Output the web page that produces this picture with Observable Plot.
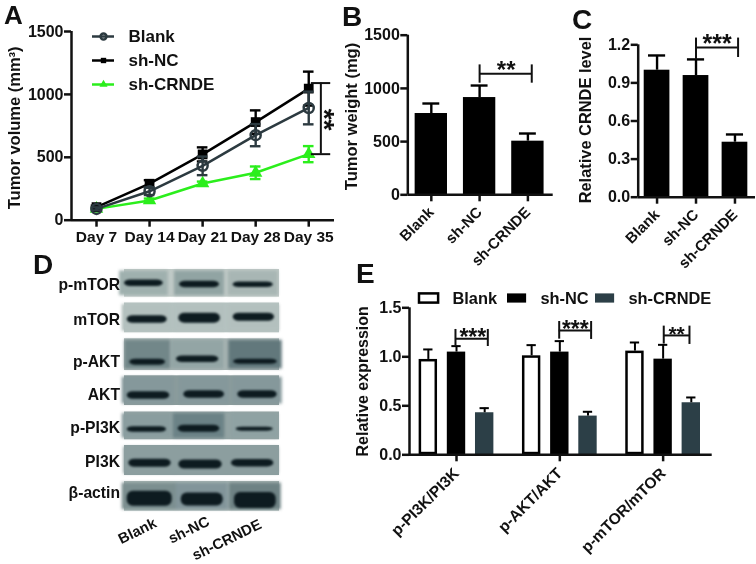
<!DOCTYPE html>
<html><head><meta charset="utf-8">
<script src="https://cdn.jsdelivr.net/npm/d3@7"></script>
<script src="https://cdn.jsdelivr.net/npm/@observablehq/plot@0.6"></script>
<style>
html,body{margin:0;padding:0;background:#fff}
#fig{position:relative;width:756px;height:564px;overflow:hidden;font-family:"Liberation Sans",Arial,sans-serif;font-weight:bold;color:#111;filter:blur(0.3px)}
#fig .letter{position:absolute;font-size:28px;line-height:24px}
</style></head><body><div id="fig"></div>
<script>
const groups = ["Blank", "sh-NC", "sh-CRNDE"];
const days = [7, 14, 21, 28, 35];
const volumeBlank = [90, 230, 432, 676, 892];
const volumeBlankErr = [12, 30, 74, 88, 130];
const volumeNC = [104, 290, 523, 780, 1046];
const volumeNCErr = [12, 28, 56, 93, 135];
const volumeCRNDE = [90, 157, 292, 377, 525];
const volumeCRNDEErr = [8, 15, 15, 50, 64];
const weight = [764, 914, 504];
const weightErr = [94, 113, 72];
const crnde = [1.0, 0.958, 0.433];
const crndeErr = [0.116, 0.127, 0.061];
const pathways = ["p-PI3K/PI3K", "p-AKT/AKT", "p-mTOR/mTOR"];
const exprBlank = [0.973, 1.01, 1.058];
const exprBlankErr = [0.102, 0.109, 0.088];
const exprNC = [1.048, 1.048, 0.976];
const exprNCErr = [0.061, 0.112, 0.146];
const exprCRNDE = [0.429, 0.395, 0.531];
const exprCRNDEErr = [0.047, 0.044, 0.054];
const blotRows = ["p-mTOR", "mTOR", "p-AKT", "AKT", "p-PI3K", "PI3K", "β-actin"];
const blotLabelAt = [15.3, 50.3, 92.7, 125, 158.7, 192.7, 223.3];
const blotTop = [0, 33.5, 69.3, 106.3, 142.5, 176, 212];
const blotBottom = [27.7, 63.3, 101, 136, 170.3, 206, 241.7];
const blotTone = ["#c0cac7", "#b6c3c1", "#a6b3b2", "#8b9c9c", "#93a4a4", "#8c9e9f", "#a6b4b3"];
const laneTone = [
  ["#9fb0ae", "#91a4a3", "#a8b6b4"], ["#b3c0be", "#b3c0be", "#b3c0be"],
  ["#728789", "#93a5a5", "#62787c"], ["#85989b", "#85989b", "#85989b"],
  ["#8a9d9f", "#6b8286", "#8fa2a3"], ["#8c9e9f", "#8c9e9f", "#8c9e9f"],
  ["#7c8f90", "#82959a", "#6e8284"]];
const bandStart = [[0, 55, 108.7], [2.7, 54.3, 108.7], [5.3, 52, 109.3], [2.7, 59.3, 113.3], [2.7, 53.7, 111.7], [4.3, 54.3, 107], [2.7, 56.7, 110]];
const bandEnd = [[38.7, 95, 148.7], [42.7, 96, 150], [41, 94.3, 152.7], [45.3, 100, 152.7], [42, 95.3, 148.7], [46.7, 97.7, 149.3], [47.7, 98.7, 151.7]];
const bandCentre = [[13.7, 15, 15.3], [50, 48.7, 47.7], [92.7, 89.7, 92.3], [126, 125, 125], [160, 159.3, 159.7], [193.7, 195, 193.7], [229.3, 230, 231]];
const bandThickness = [[6.5, 6.5, 5.5], [7.5, 10, 8], [6, 6.5, 5], [7.5, 7.5, 7.5], [5.5, 7, 4], [8, 9, 7.5], [15, 13, 16]];
const laneLabelAt = [31, 84, 136];
const laneLabelY = [252.7, 251, 254];
const bracketsE = [[-0.01, 0.303, 1.184, 1.279, 1.11, 1.105, "***", 0.158, 1.24], [0.994, 1.303, 1.269, 1.36, 1.18, 1.177, "***", 1.15, 1.32], [2.006, 2.255, 1.218, 1.313, 1.13, 1.126, "**", 2.13, 1.27]];

const ink = "#000", blankInk = "#2c3a40", green = "#2bee1c", slate = "#2c3f47";
const fig = document.getElementById("fig");
const fontFamily = '"Liberation Sans",Arial,sans-serif';
function mount(opts, left, top) {
  const p = Plot.plot({...opts, style: {position: "absolute", left: left + "px", top: top + "px", background: "transparent", overflow: "visible", fontFamily, fontWeight: "bold", color: "#111"}});
  fig.appendChild(p);
}
function frame(xd, yd, o) {
  const marks = [
    Plot.ruleY([yd[0]], {x1: xd[0], x2: xd[1], strokeWidth: 2.5, stroke: "#111"}),
    Plot.ruleX([xd[0]], {y1: yd[0], y2: yd[1], strokeWidth: 2.5, stroke: "#111"}),
    Plot.axisY({ticks: o.yTicks, tickFormat: o.yFormat, tickSize: 7, tickPadding: 1, strokeWidth: 2.5, fontSize: 16, label: null, stroke: "#111"}),
    Plot.axisX({ticks: o.xTicks, tickFormat: o.xFormat, tickSize: 7, tickPadding: o.xPad ?? 3, strokeWidth: 2.5, fontSize: o.xSize ?? 15, label: null, stroke: "#111", tickRotate: o.rot ?? 0})
  ];
  return marks;
}
function yTitle(text, dx, dy, size) {
  return Plot.text([text], {text: d => d, frameAnchor: "left", textAnchor: "middle", rotate: -90, dx, dy, fontSize: size, fill: "#111"});
}
function bracket(xa, xb, yBar, yTop, yLeft, yRight) {
  const w = 2, stroke = "#111";
  return [
    Plot.ruleY([yBar], {x1: xa, x2: xb, strokeWidth: w, stroke}),
    Plot.ruleX([xa], {y1: yTop, y2: yLeft, strokeWidth: w, stroke}),
    Plot.ruleX([xb], {y1: yTop, y2: yRight, strokeWidth: w, stroke})
  ];
}
function stars(s, x, y, size, rotate = 0) {
  return Plot.text([s], {text: d => d, x: () => x, y: () => y, fontSize: size, fill: "#111", rotate, lineAnchor: "middle", dy: rotate ? 0 : size * 0.18, dx: rotate ? -size * 0.18 : 0});
}
function errorBars(table, half, stroke, both, w = 2.4) {
  return [
    Plot.ruleX(table, {x: "x", y1: d => both ? d.v - d.e : d.v, y2: d => d.v + d.e, strokeWidth: w, stroke}),
    Plot.ruleY(table, {y: d => d.v + d.e, x1: d => d.x - half, x2: d => d.x + half, strokeWidth: w, stroke}),
    ...(both ? [Plot.ruleY(table, {y: d => d.v - d.e, x1: d => d.x - half, x2: d => d.x + half, strokeWidth: w, stroke})] : [])
  ];
}

/* Panel A */
const series = (vals, errs, xs) => vals.map((v, i) => ({x: xs[i], v, e: errs[i]}));
const volB = series(volumeBlank, volumeBlankErr, days), volN = series(volumeNC, volumeNCErr, days), volC = series(volumeCRNDE, volumeCRNDEErr, days);
const xdA = [3.7, 38.4], ydA = [0, 1500];
mount({width: 340, height: 255, marginLeft: 71, marginTop: 31, marginBottom: 35.3, marginRight: 6,
  x: {domain: xdA}, y: {domain: ydA},
  marks: [
    ...frame(xdA, ydA, {yTicks: [0, 500, 1000, 1500], yFormat: "d", xTicks: days, xFormat: d => "Day " + d, xSize: 15.5, xPad: 4}),
    yTitle("Tumor volume (mm³)", -57, 2, 16.5),
    Plot.line(volC, {x: "x", y: "v", stroke: green, strokeWidth: 2.5}),
    ...errorBars(volC, 0.7, green, true),
    Plot.dot(volC, {x: "x", y: "v", symbol: "triangle", r: 5, fill: green}),
    Plot.line(volN, {x: "x", y: "v", stroke: ink, strokeWidth: 2.5}),
    ...errorBars(volN, 0.7, ink, true),
    Plot.dot(volN, {x: "x", y: "v", symbol: "square", r: 5.5, fill: ink}),
    Plot.line(volB, {x: "x", y: "v", stroke: blankInk, strokeWidth: 2.5}),
    ...errorBars(volB, 0.7, blankInk, true),
    Plot.dot(volB, {x: "x", y: "v", symbol: "circle", r: 5, fill: "none", stroke: blankInk, strokeWidth: 2.5}),
    Plot.ruleX([36.6], {y1: 1090, y2: 525, strokeWidth: 2, stroke: "#111"}),
    Plot.ruleY([1090, 525], {x1: 35.35, x2: 37.9, strokeWidth: 2, stroke: "#111"}),
    stars("**", 37.7, 800, 28, 90)
  ]}, 0, 0);
/* Legend A */
const legendRows = groups.map((g, i) => ({g, i}));
const legendInk = [blankInk, ink, green], legendSym = ["circle", "square", "triangle"];
mount({width: 100, height: 72, margin: 0, marginTop: 12, marginBottom: 12, x: {domain: [0, 100]}, y: {domain: [2, 0]}, axis: null,
  marks: [
    Plot.ruleY(legendRows, {y: "i", x1: 0, x2: 22, strokeWidth: 2.5, stroke: d => legendInk[d.i]}),
    Plot.dot(legendRows, {x: 11, y: "i", symbol: d => legendSym[d.i], r: d => d.i === 0 ? 5 : 5.2, fill: d => d.i === 0 ? "none" : legendInk[d.i], stroke: d => d.i === 0 ? blankInk : "none", strokeWidth: 2.5}),
    Plot.text(legendRows, {x: 36, y: "i", text: "g", textAnchor: "start", fontSize: 17, fill: "#111"})
  ]}, 92.3, 24.3);

/* Panel B */
const xdB = [-0.487, 2.524], ydB = [0, 1500];
const idx = [0, 1, 2];
const tableB = series(weight, weightErr, idx);
mount({width: 216, height: 275, marginLeft: 67.3, marginTop: 34.7, marginBottom: 80.7, marginRight: 3.3,
  x: {domain: xdB}, y: {domain: ydB},
  marks: [
    Plot.rect(tableB, {x1: d => d.x - 0.335, x2: d => d.x + 0.335, y1: 0, y2: "v", fill: ink}),
    ...errorBars(tableB, 0.175, ink, false),
    ...frame(xdB, ydB, {yTicks: [0, 500, 1000, 1500], yFormat: "d", xTicks: idx, xFormat: i => groups[i], rot: -45, xPad: 8}),
    yTitle("Tumor weight (mg)", -56, 1.5, 16.5),
    ...bracket(1, 2.08, 1137, 1221, 1049, 1049),
    stars("**", 1.55, 1210, 24)
  ]}, 340, 0);

/* Panel C */
const xdC = [-0.484, 2.527], ydC = [0, 1.2];
const tableC = series(crnde, crndeErr, idx);
mount({width: 191, height: 275, marginLeft: 72.7, marginTop: 44.3, marginBottom: 78.3, marginRight: 1,
  x: {domain: xdC}, y: {domain: ydC},
  marks: [
    Plot.rect(tableC, {x1: d => d.x - 0.33, x2: d => d.x + 0.33, y1: 0, y2: "v", fill: ink}),
    ...errorBars(tableC, 0.22, ink, false),
    ...frame(xdC, ydC, {yTicks: [0, 0.3, 0.6, 0.9, 1.2], yFormat: ".1f", xTicks: idx, xFormat: i => groups[i], rot: -45, xPad: 8}),
    yTitle("Relative CRNDE level", -52.5, -1, 16.4),
    ...bracket(1, 2.08, 1.179, 1.253, 1.08, 1.10),
    stars("***", 1.54, 1.245, 25)
  ]}, 565, 0);

/* Panel D */
const rowsD = blotRows.map((name, r) => ({name, r, top: blotTop[r], bottom: blotBottom[r], at: blotLabelAt[r], tone: blotTone[r]}));
const lanesD = blotRows.flatMap((_, r) => idx.map(l => ({
  top: blotTop[r], bottom: blotBottom[r], start: bandStart[r][l] - 5, end: bandEnd[r][l] + 5, tone: laneTone[r][l],
  b1: bandCentre[r][l] - bandThickness[r][l] / 2, b2: bandCentre[r][l] + bandThickness[r][l] / 2, s: bandStart[r][l], e: bandEnd[r][l]
})));
mount({width: 340, height: 314, marginLeft: 124, marginTop: 19, marginBottom: 53, marginRight: 61,
  x: {domain: [0, 155]}, y: {domain: [0, 242], reverse: true}, axis: null,
  marks: [
    Plot.rect(rowsD, {x1: 0, x2: 155, y1: "top", y2: "bottom", fill: "tone"}),
    Plot.rect(lanesD, {x1: "start", x2: "end", y1: d => d.top + 1.5, y2: d => d.bottom - 1.5, fill: "tone", imageFilter: "blur(1.5px)"}),
    Plot.rect(lanesD, {x1: "s", x2: "e", y1: "b1", y2: "b2", fill: "#0d1b20", rx: 6, imageFilter: "blur(0.9px)"}),
    Plot.text(rowsD, {x: 0, y: "at", text: "name", textAnchor: "end", dx: -4.5, fontSize: 15.7, fill: "#111"}),
    Plot.text(idx, {x: i => laneLabelAt[i], y: i => laneLabelY[i], text: i => groups[i], textAnchor: "end", rotate: -26, fontSize: 14.8, fill: "#111"})
  ]}, 0, 250);

/* Panel E */
const xdE = [-0.455, 2.475], ydE = [0, 1.5];
const barOffset = 0.2727, barHalf = 0.089;
const at = k => idx.map(i => i + (k - 1) * barOffset);
const tE0 = series(exprBlank, exprBlankErr, at(0)), tE1 = series(exprNC, exprNCErr, at(1)), tE2 = series(exprCRNDE, exprCRNDEErr, at(2));
mount({width: 416, height: 294, marginLeft: 69, marginTop: 37.3, marginBottom: 109.7, marginRight: 44.3,
  x: {domain: xdE}, y: {domain: ydE},
  marks: [
    Plot.rect(tE0, {x1: d => d.x - barHalf, x2: d => d.x + barHalf, y1: 0, y2: "v", fill: "#fff", stroke: ink, strokeWidth: 2.5, inset: 1.25}),
    Plot.rect(tE1, {x1: d => d.x - barHalf, x2: d => d.x + barHalf, y1: 0, y2: "v", fill: ink}),
    Plot.rect(tE2, {x1: d => d.x - barHalf, x2: d => d.x + barHalf, y1: 0, y2: "v", fill: slate}),
    ...errorBars(tE0, 0.045, ink, false, 2),
    ...errorBars(tE1, 0.045, ink, false, 2),
    ...errorBars(tE2, 0.045, ink, false, 2),
    ...frame(xdE, ydE, {yTicks: [0, 0.5, 1, 1.5], yFormat: ".1f", xTicks: idx, xFormat: i => pathways[i], rot: -45, xSize: 15.6, xPad: 9}),
    yTitle("Relative expression", -46.3, 0, 16),
    ...bracketsE.flatMap(b => [...bracket(b[0], b[1], b[2], b[3], b[4], b[5]), stars(b[6], b[7], b[8], b[6].length === 3 ? 23 : 21)])
  ]}, 340, 270);
/* Legend E */
const legendFill = ["#fff", ink, slate];
mount({width: 264, height: 20, margin: 0, x: {domain: [0, 3]}, y: {domain: [1, 0]}, axis: null,
  marks: [
    Plot.rect(idx, {x1: i => i, x2: i => i + 0.24, y1: 0.22, y2: 0.78, fill: i => legendFill[i], stroke: i => i === 0 ? ink : "none", strokeWidth: 2.5, inset: 1}),
    Plot.text(idx, {x: i => i + 0.385, y: 0.5, text: i => groups[i], textAnchor: "start", fontSize: 16.4, fill: "#111"})
  ]}, 417.7, 288);

/* Panel letters */
[["A", 4, 0, 26, 30], ["B", 342, 4.5, 28, 24], ["C", 572, 7.5, 28, 24], ["D", 33, 252.5, 28, 24], ["E", 356, 262, 28, 24]].forEach(([t, l, tp, fs, lh]) => {
  const d = document.createElement("div");
  d.className = "letter"; d.textContent = t; d.style.left = l + "px"; d.style.top = tp + "px";
  d.style.fontSize = fs + "px"; d.style.lineHeight = lh + "px";
  fig.appendChild(d);
});
</script></body></html>
